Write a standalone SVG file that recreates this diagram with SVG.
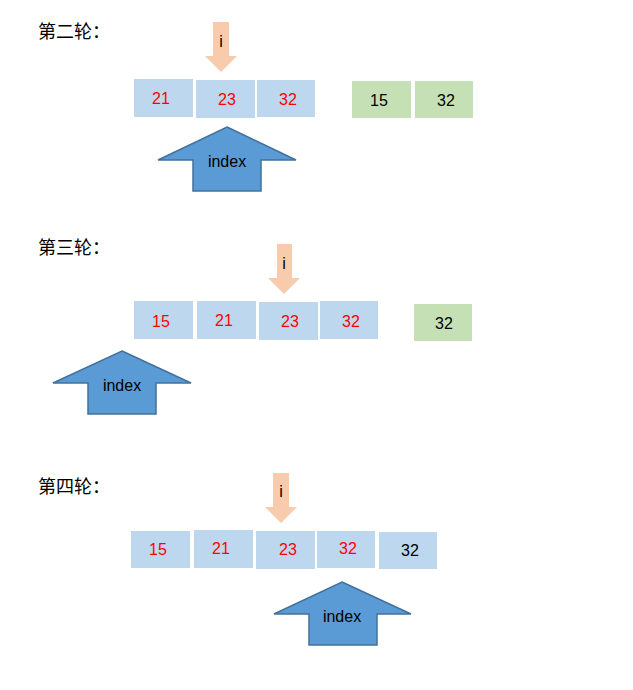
<svg xmlns="http://www.w3.org/2000/svg" width="633" height="690" viewBox="0 0 633 690">
<style>
text{font-family:"Liberation Sans","Noto Sans CJK SC",sans-serif;font-size:16px;text-anchor:middle}
.t{text-anchor:start;font-size:18px}
.b{fill:#bdd7ee}
.g{fill:#c5e0b4}
.r{fill:#ff0000}
.k{fill:#000}
.i{fill:#f8cbad}
.x{fill:#5b9bd5;stroke:#41719c;stroke-width:1.5}
</style>
<rect width="633" height="690" fill="#fff"/>

<!-- Round 2 -->
<g id="title2"><text class="t" x="38" y="38">第二轮：</text></g>
<g id="r2-i"><polygon class="i" points="213,22 229,22 229,56 237,56 221,72 205,56 213,56"/><text x="221" y="47" class="k">i</text></g>
<g id="r2-b1"><rect class="b" x="134" y="79" width="59" height="38"/><text x="161" y="104" class="r">21</text></g>
<g id="r2-b2"><rect class="b" x="196" y="80" width="59" height="38"/><text x="227" y="105" class="r">23</text></g>
<g id="r2-b3"><rect class="b" x="257" y="80" width="58" height="37"/><text x="288" y="105" class="r">32</text></g>
<g id="r2-g1"><rect class="g" x="352" y="81" width="59" height="37"/><text x="379" y="106" class="k">15</text></g>
<g id="r2-g2"><rect class="g" x="415" y="81" width="58" height="37"/><text x="446" y="106" class="k">32</text></g>
<g id="r2-index"><polygon class="x" points="227,127 296,160 261,160 261,191 193,191 193,160 158,160"/><text x="227" y="167" class="k">index</text></g>

<!-- Round 3 -->
<g id="title3"><text class="t" x="38" y="254">第三轮：</text></g>
<g id="r3-i"><polygon class="i" points="277,244 292,244 292,278 300,278 284,294 268,278 277,278"/><text x="284" y="269" class="k">i</text></g>
<g id="r3-b1"><rect class="b" x="134" y="301" width="59" height="38"/><text x="161" y="327" class="r">15</text></g>
<g id="r3-b2"><rect class="b" x="197" y="301" width="59" height="38"/><text x="224" y="326" class="r">21</text></g>
<g id="r3-b3"><rect class="b" x="259" y="302" width="59" height="38"/><text x="290" y="327" class="r">23</text></g>
<g id="r3-b4"><rect class="b" x="320" y="301" width="58" height="38"/><text x="351" y="327" class="r">32</text></g>
<g id="r3-g1"><rect class="g" x="414" y="304" width="58" height="37"/><text x="444" y="329" class="k">32</text></g>
<g id="r3-index"><polygon class="x" points="122,351 191,383 156,383 156,414 88,414 88,383 53,383"/><text x="122" y="391" class="k">index</text></g>

<!-- Round 4 -->
<g id="title4"><text class="t" x="38" y="493">第四轮：</text></g>
<g id="r4-i"><polygon class="i" points="273,473 289,473 289,507 297,507 281,523 265,507 273,507"/><text x="281" y="497" class="k">i</text></g>
<g id="r4-b1"><rect class="b" x="131" y="531" width="59" height="37"/><text x="158" y="555" class="r">15</text></g>
<g id="r4-b2"><rect class="b" x="194" y="530" width="59" height="38"/><text x="221" y="554" class="r">21</text></g>
<g id="r4-b3"><rect class="b" x="256" y="531" width="59" height="38"/><text x="288" y="555" class="r">23</text></g>
<g id="r4-b4"><rect class="b" x="317" y="531" width="58" height="37"/><text x="348" y="554" class="r">32</text></g>
<g id="r4-b5"><rect class="b" x="379" y="532" width="58" height="37"/><text x="410" y="556" class="k">32</text></g>
<g id="r4-index"><polygon class="x" points="342,582 411,614 377,614 377,645 309,645 309,614 274,614"/><text x="342" y="622" class="k">index</text></g>
</svg>
